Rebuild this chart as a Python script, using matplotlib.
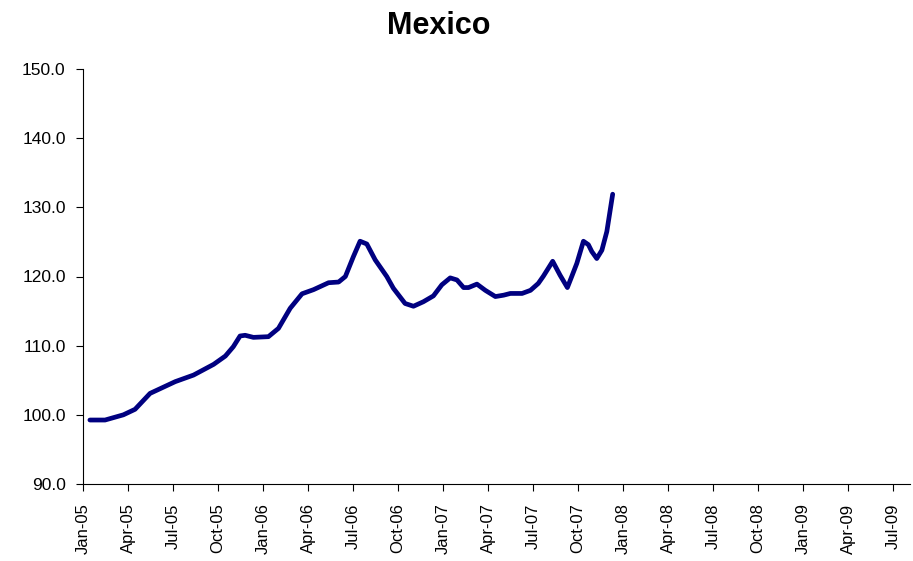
import matplotlib.pyplot as plt

plt.rcParams['font.family'] = ['Liberation Sans', 'DejaVu Sans']

# months since Jan-05 and index values
months = [0.46, 1.47, 2.69, 3.47, 4.47, 5.36, 6.15, 7.37, 8.71, 9.49, 10.02, 10.47,
          10.81, 11.36, 12.36, 13.03, 13.81, 14.60, 15.37, 16.37, 17.04, 17.49,
          18.02, 18.47, 18.92, 19.48, 20.25, 20.69, 21.47, 22.03, 22.69, 23.36,
          23.92, 24.48, 24.93, 25.37, 25.70, 26.26, 26.82, 27.49, 28.04, 28.49,
          29.27, 29.83, 30.35, 30.69, 31.31, 31.80, 32.29, 32.58, 32.92, 33.36,
          33.69, 33.92, 34.25, 34.59, 34.92, 35.31]
values = [99.25, 99.25, 100.0, 100.8, 103.1, 104.0, 104.8, 105.75, 107.3, 108.5, 109.85, 111.4,
          111.5, 111.2, 111.3, 112.5, 115.4, 117.5, 118.1, 119.1, 119.2, 120.0,
          122.85, 125.1, 124.7, 122.4, 120.0, 118.3, 116.1, 115.7, 116.35, 117.2,
          118.8, 119.8, 119.5, 118.4, 118.4, 118.9, 118.0, 117.1, 117.3, 117.55,
          117.55, 118.0, 119.0, 120.05, 122.2, 120.2, 118.4, 120.0, 121.9, 125.1,
          124.6, 123.6, 122.6, 123.8, 126.5, 131.9]

tick_labels = ['Jan-05', 'Apr-05', 'Jul-05', 'Oct-05', 'Jan-06', 'Apr-06', 'Jul-06',
               'Oct-06', 'Jan-07', 'Apr-07', 'Jul-07', 'Oct-07', 'Jan-08', 'Apr-08',
               'Jul-08', 'Oct-08', 'Jan-09', 'Apr-09', 'Jul-09']

fig = plt.figure(figsize=(9.13, 5.61), dpi=100)
ax = fig.add_axes([83 / 913, 1 - 484 / 561, 827 / 913, 415 / 561])

ax.plot(months, values, color='#000080', linewidth=3.4, solid_capstyle='round',
        solid_joinstyle='round')

ax.set_xlim(0, 55.13)
ax.set_ylim(90, 150)
ax.set_xticks(range(0, 55, 3))
ax.set_xticklabels(tick_labels, rotation=90, fontsize=12)
ax.set_yticks(range(90, 151, 10))
ax.set_yticklabels([f'{v:.1f}' for v in range(90, 151, 10)], fontsize=12.5)

for s in ['top', 'right']:
    ax.spines[s].set_visible(False)
for s in ['left', 'bottom']:
    ax.spines[s].set_color('black')
    ax.spines[s].set_linewidth(0.8)
ax.tick_params(length=5, width=0.8, direction='out')
ax.tick_params(axis='x', pad=9)
ax.tick_params(axis='y', pad=7.5)

fig.text(438.5 / 913, 1 - 34.5 / 561, 'Mexico', ha='center', va='baseline',
         fontsize=22, fontweight='bold')

fig.savefig('out.png', dpi=100)
